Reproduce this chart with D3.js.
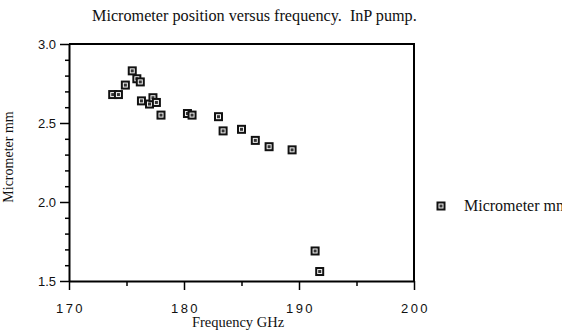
<!DOCTYPE html>
<html>
<head>
<meta charset="utf-8">
<script src="https://cdn.jsdelivr.net/npm/d3@7"></script>
<style>
  body { margin: 0; background: #fff; }
  .tickText { font-family: "Liberation Sans", Arial, sans-serif; font-size: 13px; fill: #111; }
  .serifText { font-family: "Liberation Serif", "Times New Roman", serif; fill: #111; }
</style>
</head>
<body>
<div id="chart"></div>
<script>
// data
const frequency = [173.8, 174.3, 174.9, 175.5, 175.9, 176.2, 176.3, 177.0, 177.3, 177.6, 178.0,
    180.3, 180.7, 183.0, 183.4, 185.0, 186.2, 187.4, 189.4, 191.4, 191.8];
const micrometer = [2.68, 2.68, 2.74, 2.83, 2.78, 2.76, 2.64, 2.62, 2.66, 2.63, 2.55,
    2.56, 2.55, 2.54, 2.45, 2.46, 2.39, 2.35, 2.33, 1.69, 1.56];
const xTicks = [170, 180, 190, 200];
const xMinorTicks = [175, 185, 195];
const yTicks = [1.5, 2.0, 2.5, 3.0];
const yMinorTicks = [1.6, 1.7, 1.8, 1.9, 2.1, 2.2, 2.3, 2.4, 2.6, 2.7, 2.8, 2.9];
const seriesName = "Micrometer mm";

// set up svg size
const svgWidth = 562;
const svgHeight = 333;

const margin = { top: 44, right: 148, bottom: 52, left: 69 };
const width = svgWidth - margin.left - margin.right;
const height = svgHeight - margin.top - margin.bottom;

const svg = d3.select("#chart")
    .append("svg")
    .attr("width", svgWidth)
    .attr("height", svgHeight);

const chartGroup = svg.append("g")
    .attr("transform", `translate(${margin.left}, ${margin.top})`);

const xScale = d3.scaleLinear().domain([170, 200]).range([0, width]);
const yScale = d3.scaleLinear().domain([1.5, 3.0]).range([height, 0]);

// minor ticks first, then major ones with labels
chartGroup.append("g")
    .attr("transform", `translate(0, ${height})`)
    .call(d3.axisBottom(xScale).tickValues(xMinorTicks).tickSize(5).tickFormat(""))
    .call(g => g.select(".domain").remove())
    .selectAll("line").attr("stroke-width", 1.5);

const xAxis = chartGroup.append("g")
    .attr("transform", `translate(0, ${height})`)
    .call(d3.axisBottom(xScale).tickValues(xTicks).tickSize(9).tickPadding(14).tickSizeOuter(0).tickFormat(d3.format("d")));
xAxis.selectAll("text").attr("class", "tickText").attr("font-size", null).attr("font-family", null)
    .attr("letter-spacing", "2.5px").attr("dx", "1px");
xAxis.selectAll("line").attr("stroke-width", 1.5);
xAxis.select(".domain").attr("stroke-width", 2);

chartGroup.append("g")
    .call(d3.axisLeft(yScale).tickValues(yMinorTicks).tickSize(4).tickFormat(""))
    .call(g => g.select(".domain").remove())
    .selectAll("line").attr("stroke-width", 1.5);

const yAxis = chartGroup.append("g")
    .call(d3.axisLeft(yScale).tickValues(yTicks).tickSize(9).tickPadding(4).tickSizeOuter(0).tickFormat(d3.format(".1f")));
yAxis.selectAll("text").attr("class", "tickText").attr("font-size", null).attr("font-family", null);
yAxis.selectAll("line").attr("stroke-width", 1.5);
yAxis.select(".domain").attr("stroke-width", 2);

// top and right frame
chartGroup.append("path")
    .attr("d", `M0,0H${width}V${height}`)
    .attr("fill", "none")
    .attr("stroke", "#000")
    .attr("stroke-width", 2);

// square markers with a small hollow centre
function drawMarker(g) {
    g.append("rect").attr("x", -4.5).attr("y", -4.5).attr("width", 9).attr("height", 9).attr("fill", "#111");
    g.append("rect").attr("x", -2).attr("y", -2).attr("width", 4).attr("height", 4)
        .attr("fill", "#333").attr("stroke", "#f2f2f2").attr("stroke-width", 1);
}

chartGroup.selectAll(".pt")
    .data(frequency.map((f, i) => ({ f: f, v: micrometer[i] })))
    .enter()
    .append("g")
    .attr("class", "pt")
    .attr("transform", d => `translate(${xScale(d.f)}, ${yScale(d.v)})`)
    .each(function() { drawMarker(d3.select(this)); });

// legend (clipped at the right edge, as in the original)
const legend = svg.append("g").attr("transform", "translate(441, 206)");
drawMarker(legend);
legend.append("text")
    .attr("class", "serifText")
    .attr("x", 23)
    .attr("y", 5)
    .attr("font-size", "16px")
    .text(seriesName);

// title and axis labels
svg.append("text")
    .attr("class", "serifText")
    .attr("x", 92)
    .attr("y", 21)
    .attr("font-size", "16.2px")
    .text("Micrometer position versus frequency.\u00a0\u00a0InP pump.");

svg.append("text")
    .attr("class", "serifText")
    .attr("x", 238)
    .attr("y", 327)
    .attr("text-anchor", "middle")
    .attr("font-size", "14.5px")
    .text("Frequency GHz");

svg.append("text")
    .attr("class", "serifText")
    .attr("transform", "rotate(-90)")
    .attr("x", -157)
    .attr("y", 13)
    .attr("text-anchor", "middle")
    .attr("font-size", "14px")
    .text(seriesName);
</script>
</body>
</html>
